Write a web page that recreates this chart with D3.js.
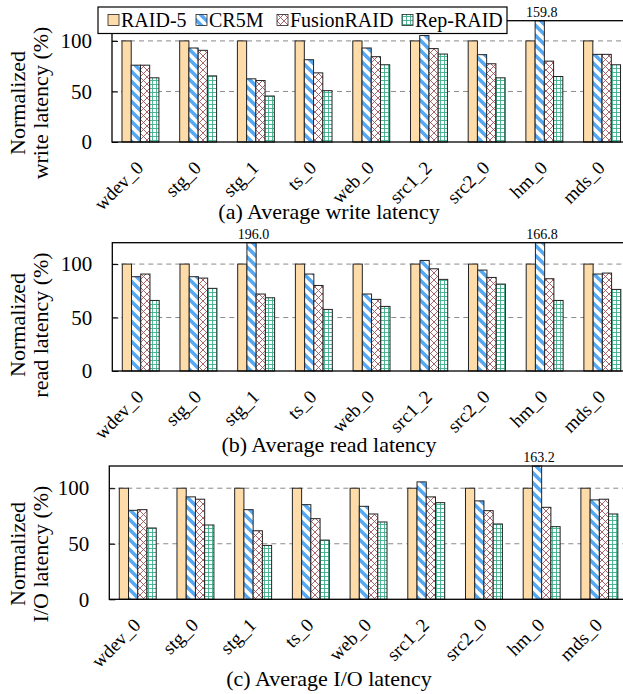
<!DOCTYPE html>
<html>
<head>
<meta charset="utf-8">
<script src="https://cdn.jsdelivr.net/npm/d3@7"></script>
<style>
  body { margin: 0; background: #fff; }
  svg { display: block; }
</style>
</head>
<body>
<div id="chart"></div>
<script>
// workloads and schemes
const workloads = ["wdev_0", "stg_0", "stg_1", "ts_0", "web_0", "src1_2", "src2_0", "hm_0", "mds_0"];
const schemes = ["RAID-5", "CR5M", "FusionRAID", "Rep-RAID"];
const yTicks = [0, 50, 100];

// (a) write latency, normalized to RAID-5
const writeRAID5  = [100, 100, 100, 100, 100, 100, 100, 100, 100];
const writeCR5M   = [76, 93, 62.5, 81.4, 93, 105.3, 86.4, 159.8, 86.7];
const writeFusion = [76, 90.7, 60.8, 68.4, 84.4, 92.4, 77.4, 80, 86.7];
const writeRep    = [63.5, 65.4, 45.5, 50.8, 76.4, 87, 63.5, 64.8, 76.4];

// (b) read latency
const readRAID5  = [100, 100, 100, 100, 100, 100, 100, 100, 100];
const readCR5M   = [88.2, 88.2, 196.0, 90.7, 72, 103.4, 94.4, 166.8, 90.7];
const readFusion = [90.7, 86.9, 72, 80, 67, 95.6, 87.5, 86.3, 91.6];
const readRep    = [66, 77.3, 68.5, 57.6, 60.4, 85.7, 81.3, 66, 76.3];

// (c) I/O latency
const ioRAID5  = [100, 100, 100, 100, 100, 100, 100, 100, 100];
const ioCR5M   = [80.1, 92.2, 80.7, 85.2, 83.7, 105.7, 88.6, 163.2, 89.5];
const ioFusion = [80.7, 90.1, 61.7, 72.6, 76.8, 92.2, 79.8, 82.8, 90.1];
const ioRep    = [64.2, 66.9, 48.5, 53.3, 69.6, 87, 67.8, 65.4, 76.8];

const width = 623, height = 694, yMax = 120;
const serif = "'Liberation Serif', 'Times New Roman', serif";

const panels = [
  {id: "a", top: 20.7, bottom: 142, left: 112, capY: 219, labY: 103,
   caption: "(a) Average write latency", ylab: "write latency (%)",
   series: [writeRAID5, writeCR5M, writeFusion, writeRep]},
  {id: "b", top: 242.7, bottom: 371, left: 112.3, capY: 452, labY: 325,
   caption: "(b) Average read latency", ylab: "read latency (%)",
   series: [readRAID5, readCR5M, readFusion, readRep]},
  {id: "c", top: 466, bottom: 599.3, left: 109.3, capY: 686, labY: 554,
   caption: "(c) Average I/O latency", ylab: "I/O latency (%)",
   series: [ioRAID5, ioCR5M, ioFusion, ioRep]}
];

const svg = d3.select("#chart").append("svg")
  .attr("width", width)
  .attr("height", height);

// fill patterns
const defs = svg.append("defs");

var p = defs.append("pattern").attr("id", "pat-cr5m")
  .attr("patternUnits", "userSpaceOnUse")
  .attr("width", 10).attr("height", 10);
p.append("rect").attr("width", 10).attr("height", 10).attr("fill", "#fff");
p.append("path").attr("d", "M0,0L10,10M5,-5L15,5M-5,5L5,15")
  .attr("stroke", "#55a8f4").attr("stroke-width", 3.6).attr("fill", "none");

p = defs.append("pattern").attr("id", "pat-fusion")
  .attr("patternUnits", "userSpaceOnUse")
  .attr("width", 7).attr("height", 7);
p.append("rect").attr("width", 7).attr("height", 7).attr("fill", "#fff");
p.append("path").attr("d", "M0,0L7,7M7,0L0,7")
  .attr("stroke", "#a0525a").attr("stroke-width", 0.9).attr("fill", "none");

p = defs.append("pattern").attr("id", "pat-rep")
  .attr("patternUnits", "userSpaceOnUse")
  .attr("width", 4).attr("height", 4);
p.append("rect").attr("width", 4).attr("height", 4).attr("fill", "#fff");
p.append("path").attr("d", "M0,0.5H4M0.5,0V4")
  .attr("stroke", "#3fae8a").attr("stroke-width", 0.9).attr("fill", "none");

const fills = ["#fedcaa", "url(#pat-cr5m)", "url(#pat-fusion)", "url(#pat-rep)"];

function label(sel, size) {
  return sel.style("font-family", serif).style("font-size", size + "px").attr("fill", "#000");
}

panels.forEach(function(pn) {
  var g = svg.append("g");

  var x = d3.scaleBand()
    .domain(workloads)
    .range([pn.left, pn.left + 518.5])
    .paddingInner(0.36)
    .paddingOuter(0.173);

  var xs = d3.scaleBand()
    .domain(schemes)
    .range([0, x.bandwidth()]);

  var y = d3.scaleLinear()
    .domain([0, yMax])
    .range([pn.bottom, pn.top]);

  // dashed grid
  g.selectAll(".grid")
    .data([50, 100])
    .enter().append("line")
      .attr("x1", pn.left).attr("x2", width)
      .attr("y1", d => y(d)).attr("y2", d => y(d))
      .attr("stroke", "#8a8a8a")
      .attr("stroke-width", 1)
      .attr("stroke-dasharray", "5,4");

  var rows = [];
  workloads.forEach(function(w, i) {
    schemes.forEach(function(s, j) {
      rows.push({w: w, s: s, j: j, v: pn.series[j][i]});
    });
  });

  // bars, cut at the top of the axis
  g.append("g")
    .selectAll("rect")
    .data(rows)
    .enter().append("rect")
      .attr("x", d => x(d.w) + xs(d.s))
      .attr("y", d => y(Math.min(d.v, yMax)))
      .attr("width", xs.bandwidth())
      .attr("height", d => pn.bottom - y(Math.min(d.v, yMax)))
      .attr("fill", d => fills[d.j])
      .attr("stroke", "#222")
      .attr("stroke-width", 1);

  // values beyond the axis range
  g.selectAll(".over")
    .data(rows.filter(d => d.v > yMax))
    .enter().append("text")
      .attr("x", d => x(d.w) + xs(d.s) + xs.bandwidth() / 2 + 2)
      .attr("y", pn.top - 4)
      .attr("text-anchor", "middle")
      .call(label, 14)
      .text(d => d.v.toFixed(1));

  // frame
  g.append("rect")
    .attr("x", pn.left).attr("y", pn.top)
    .attr("width", width).attr("height", pn.bottom - pn.top)
    .attr("fill", "none")
    .attr("stroke", "#000")
    .attr("stroke-width", 1.3);

  // y axis
  var ax = g.append("g")
    .attr("transform", "translate(" + pn.left + ",0)")
    .call(d3.axisLeft(y).tickValues(yTicks).tickSize(-6).tickPadding(20));
  ax.select(".domain").remove();
  ax.selectAll("line").attr("stroke", "#000");
  ax.selectAll("text").call(label, 21);

  // x labels, turned 45 degrees
  g.selectAll(".xl")
    .data(workloads)
    .enter().append("text")
      .style("transform", d => "translate(" + (x(d) + x.bandwidth() / 2 + 4) + "px," + (pn.bottom + 27) + "px) rotate(-45deg)")
      .attr("text-anchor", "end")
      .call(label, 19)
      .text(d => d);

  // y title
  g.append("text")
    .style("transform", "translate(25px," + pn.labY + "px) rotate(-90deg)")
    .attr("text-anchor", "middle")
    .call(label, 22)
    .text("Normalized");
  g.append("text")
    .style("transform", "translate(48px," + pn.labY + "px) rotate(-90deg)")
    .attr("text-anchor", "middle")
    .call(label, 22)
    .text(pn.ylab);

  // caption
  g.append("text")
    .attr("x", 329)
    .attr("y", pn.capY)
    .attr("text-anchor", "middle")
    .call(label, 22)
    .text(pn.caption);
});

// legend
const legendX = [108, 196, 277, 402];
const leg = svg.append("g");
leg.append("rect")
  .attr("x", 98).attr("y", 7)
  .attr("width", 409).attr("height", 26.5)
  .attr("fill", "#fff")
  .attr("stroke", "#000")
  .attr("stroke-width", 1.2);

const item = leg.selectAll(".item")
  .data(schemes)
  .enter().append("g")
    .attr("transform", (d, i) => "translate(" + legendX[i] + ",0)");
item.append("rect")
  .attr("x", 0).attr("y", 14.5)
  .attr("width", 11).attr("height", 11)
  .attr("fill", (d, i) => fills[i])
  .attr("stroke", "#222")
  .attr("stroke-width", 0.8);
item.append("text")
  .attr("x", 13).attr("y", 27)
  .call(label, 20)
  .text(d => d);
</script>
</body>
</html>
